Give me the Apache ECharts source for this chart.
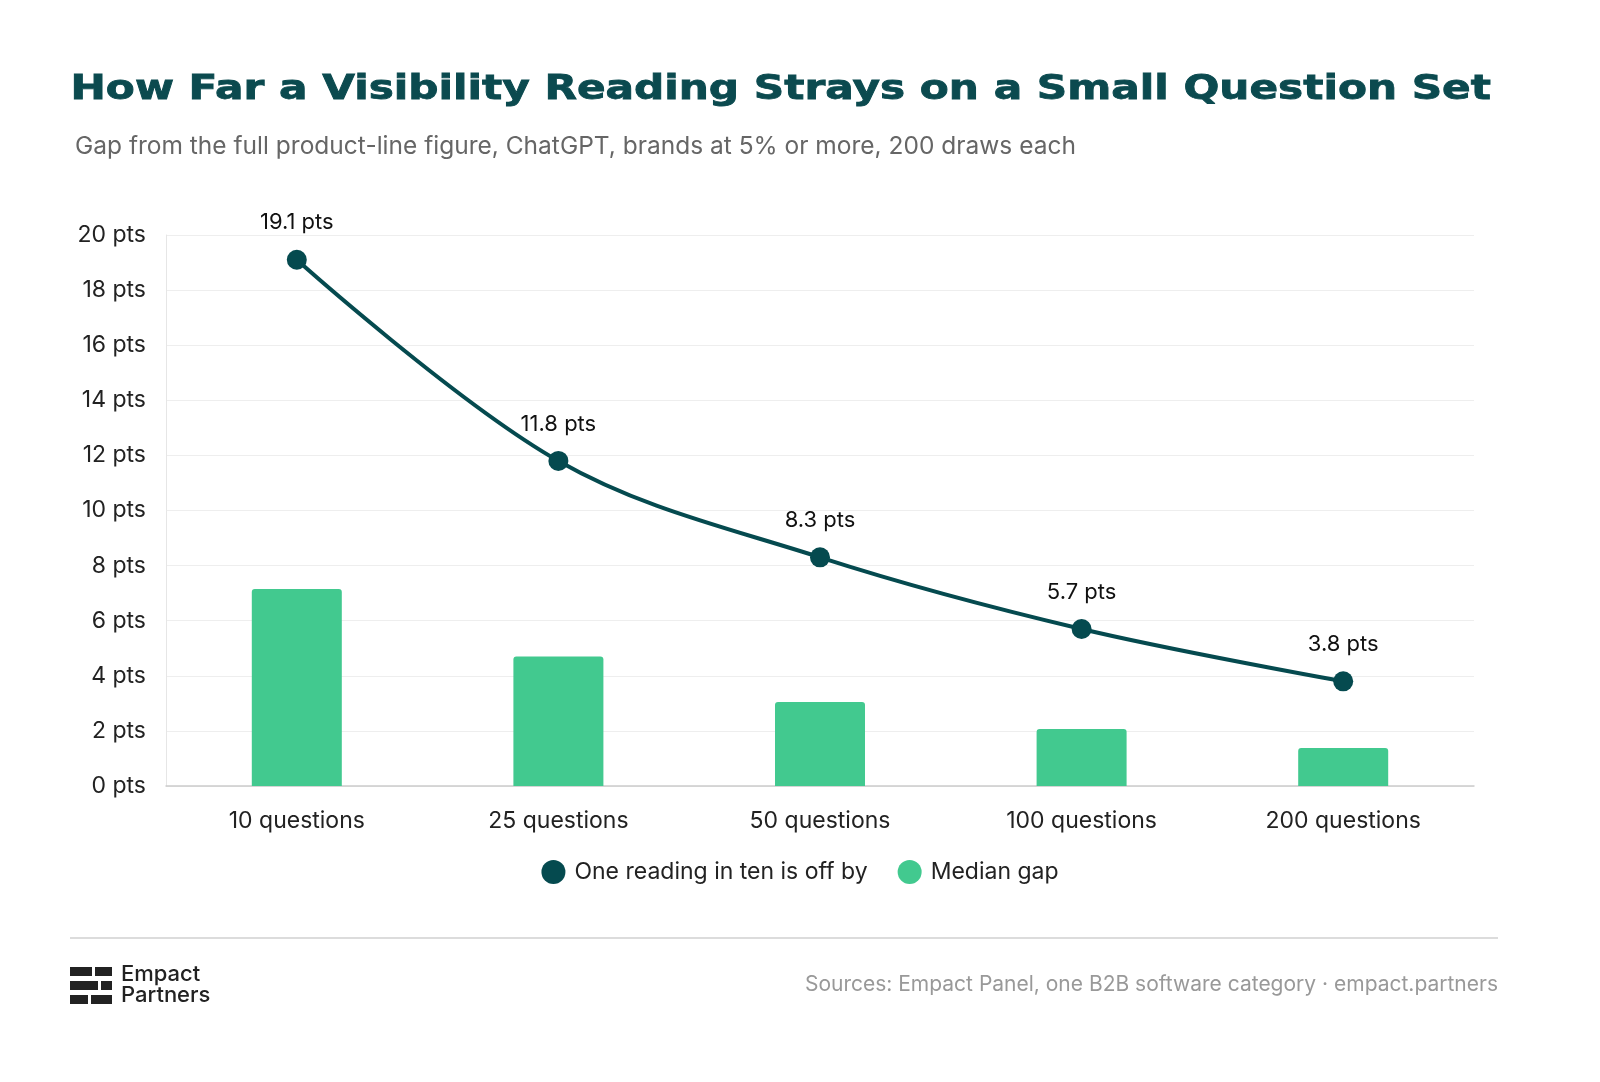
<!DOCTYPE html>
<html lang="en" style="height: 100%">
<head>
  <meta charset="utf-8">
</head>
<body style="height: 100%; margin: 0; background: #fff">
  <div id="container" style="width: 1600px; height: 1082px"></div>
  <script type="text/javascript" src="https://fastly.jsdelivr.net/npm/echarts@6/dist/echarts.min.js"></script>
  <script type="text/javascript">
    var categories = ['10 questions', '25 questions', '50 questions', '100 questions', '200 questions'];
    var oneInTen = [19.1, 11.8, 8.3, 5.7, 3.8];
    var medianGap = [7.15, 4.7, 3.05, 2.07, 1.38];
    var yTicks = [0, 2, 4, 6, 8, 10, 12, 14, 16, 18, 20];

    var font = 'Inter, "Noto Sans", sans-serif';
    var myChart = echarts.init(document.getElementById('container'), null, { renderer: 'canvas' });

    var option = {
      backgroundColor: '#ffffff',
      textStyle: { fontFamily: font },
      title: [
        {
          text: 'Gap from the full product-line figure, ChatGPT, brands at 5% or more, 200 draws each',
          left: 70, top: 129,
          textStyle: { fontFamily: font, fontWeight: 400, fontSize: 24.5, color: '#666' }
        }
      ],
      legend: {
        bottom: 193, left: 'center', itemWidth: 24, itemHeight: 24, itemGap: 30,
        icon: 'circle',
        textStyle: { fontSize: 23, color: '#222', fontFamily: font, padding: [0, 0, 0, 4] },
        data: ['One reading in ten is off by', 'Median gap']
      },
      grid: { left: 166, right: 126, top: 235, bottom: 296 },
      xAxis: {
        type: 'category', data: categories,
        axisLine: { lineStyle: { color: '#ccc', width: 1.5 } },
        axisTick: { show: false },
        axisLabel: { fontSize: 23, color: '#222', margin: 24 }
      },
      yAxis: {
        type: 'value', min: 0, max: 20, interval: 2,
        axisLine: { show: true, lineStyle: { color: '#e6e6e6' } },
        splitLine: { lineStyle: { color: '#eeeeee' } },
        axisLabel: { fontSize: 23, color: '#222', margin: 20, formatter: function (v) { return yTicks.indexOf(v) >= 0 ? v + ' pts' : ''; } }
      },
      series: [
        {
          name: 'Median gap', type: 'bar', data: medianGap, barWidth: 90,
          itemStyle: { color: '#42c98f', borderRadius: [3, 3, 0, 0] }
        },
        {
          name: 'One reading in ten is off by', type: 'line', data: oneInTen, smooth: 0.35,
          symbol: 'circle', symbolSize: 20,
          lineStyle: { color: '#054a4f', width: 4 },
          itemStyle: { color: '#054a4f' },
          label: { show: true, position: 'top', distance: 16, fontSize: 22, color: '#111', formatter: function (p) { return p.value + ' pts'; } },
          z: 5
        }
      ],
      graphic: [
        { type: 'text', left: 70, top: 74, scaleX: 1.28, scaleY: 1,
          style: { text: 'How Far a Visibility Reading Strays on a Small Question Set', font: '900 33px "DejaVu Sans", sans-serif', fill: '#0b4a4f', stroke: '#0b4a4f', lineWidth: 0.8 } },
        { type: 'rect', shape: { x: 70, y: 937, width: 1428, height: 2 }, style: { fill: '#dcdcdc' } },
        { type: 'rect', shape: { x: 70, y: 967, width: 22, height: 9 }, style: { fill: '#222' } },
        { type: 'rect', shape: { x: 95, y: 967, width: 17, height: 9 }, style: { fill: '#222' } },
        { type: 'rect', shape: { x: 70, y: 981, width: 28, height: 9 }, style: { fill: '#222' } },
        { type: 'rect', shape: { x: 101, y: 981, width: 11, height: 9 }, style: { fill: '#222' } },
        { type: 'rect', shape: { x: 70, y: 995, width: 18, height: 9 }, style: { fill: '#222' } },
        { type: 'rect', shape: { x: 91, y: 995, width: 21, height: 9 }, style: { fill: '#222' } },
        { type: 'text', left: 121, top: 963, style: { text: 'Empact\nPartners', font: '500 22px ' + font, fill: '#222', lineHeight: 21 } },
        { type: 'text', right: 102, top: 974, style: { text: 'Sources: Empact Panel, one B2B software category · empact.partners', font: '21px ' + font, fill: '#999' } }
      ]
    };

    myChart.setOption(option);
    window.addEventListener('resize', myChart.resize);
  </script>
</body>
</html>
